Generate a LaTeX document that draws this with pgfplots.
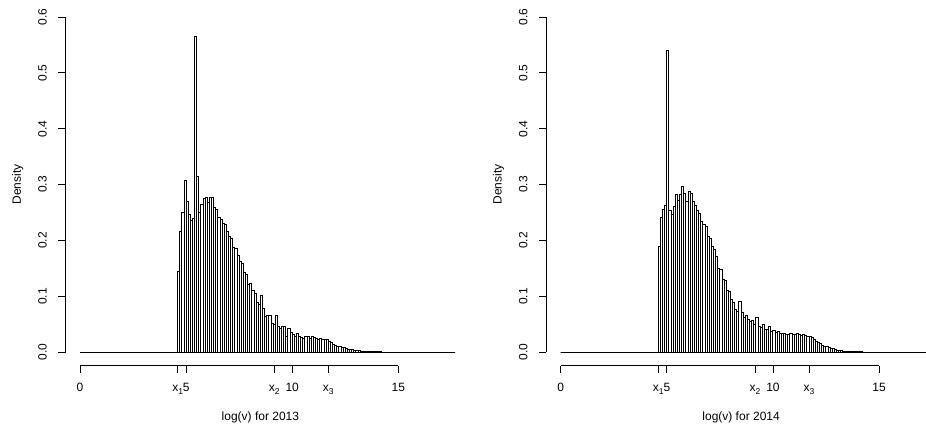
\documentclass[border=0pt]{standalone}
\usepackage{pgfplots}
\pgfplotsset{compat=1.18}
\usepackage{pgfplotstable}
\usepackage{fontspec}
\setmainfont{Liberation Sans}
\newcommand\sub[1]{\raisebox{-2.8pt}{\fontsize{8.5}{9}\selectfont #1}}

% 2013: left edges of bins (width 0.1) and densities; last row gives the right edge
\pgfplotstableread{
x y
0.0 0
4.6 0.144
4.7 0.216
4.8 0.250
4.9 0.307
5.0 0.270
5.1 0.246
5.2 0.235
5.3 0.240
5.4 0.565
5.5 0.314
5.6 0.250
5.7 0.265
5.8 0.275
5.9 0.277
6.0 0.268
6.1 0.277
6.2 0.277
6.3 0.259
6.4 0.256
6.5 0.242
6.6 0.238
6.7 0.231
6.8 0.229
6.9 0.217
7.0 0.208
7.1 0.204
7.2 0.188
7.3 0.186
7.4 0.174
7.5 0.163
7.6 0.159
7.7 0.142
7.8 0.140
7.9 0.122
8.0 0.123
8.1 0.110
8.2 0.106
8.3 0.089
8.4 0.086
8.5 0.101
8.6 0.079
8.7 0.064
8.8 0.065
8.9 0.065
9.0 0.052
9.1 0.049
9.2 0.065
9.3 0.047
9.4 0.043
9.5 0.046
9.6 0.046
9.7 0.028
9.8 0.043
9.9 0.035
10.0 0.032
10.1 0.028
10.2 0.033
10.3 0.028
10.4 0.027
10.5 0.025
10.6 0.028
10.7 0.028
10.8 0.025
10.9 0.028
11.0 0.027
11.1 0.025
11.2 0.023
11.3 0.024
11.4 0.022
11.5 0.022
11.6 0.022
11.7 0.019
11.8 0.017
11.9 0.014
12.0 0.013
12.1 0.011
12.2 0.010
12.3 0.009
12.4 0.0077
12.5 0.0065
12.6 0.0058
12.7 0.0050
12.8 0.0044
12.9 0.0038
13.0 0.0032
13.1 0.0027
13.2 0.0023
13.3 0.0020
13.4 0.0017
13.5 0.0014
13.6 0.0012
13.7 0.0010
13.8 0.0009
13.9 0.0008
14.0 0.0007
14.2 0.0005
14.4 0.0004
14.6 0.0003
14.8 0.0002
15.0 0
17.68 0
}\histA

% 2014
\pgfplotstableread{
x y
0.0 0
4.6 0.190
4.7 0.2415
4.8 0.256
4.9 0.2635
5.0 0.540
5.1 0.253
5.2 0.246
5.3 0.260
5.4 0.283
5.5 0.271
5.6 0.283
5.7 0.2975
5.8 0.2845
5.9 0.269
6.0 0.287
6.1 0.2845
6.2 0.269
6.3 0.2635
6.4 0.253
6.5 0.249
6.6 0.234
6.7 0.229
6.8 0.225
6.9 0.208
7.0 0.204
7.1 0.189
7.2 0.184
7.3 0.172
7.4 0.150
7.5 0.1485
7.6 0.131
7.7 0.129
7.8 0.111
7.9 0.108
8.0 0.094
8.1 0.089
8.2 0.076
8.3 0.073
8.4 0.091
8.5 0.071
8.6 0.063
8.7 0.066
8.8 0.058
8.9 0.055
9.0 0.057
9.1 0.050
9.2 0.063
9.3 0.046
9.4 0.044
9.5 0.050
9.6 0.041
9.7 0.040
9.8 0.046
9.9 0.038
10.0 0.039
10.1 0.035
10.2 0.037
10.3 0.034
10.4 0.033
10.5 0.034
10.6 0.032
10.7 0.031
10.8 0.033
10.9 0.031
11.0 0.032
11.1 0.033
11.2 0.032
11.3 0.030
11.4 0.031
11.5 0.030
11.6 0.029
11.7 0.029
11.8 0.026
11.9 0.023
12.0 0.020
12.1 0.018
12.2 0.015
12.3 0.013
12.4 0.011
12.5 0.0095
12.6 0.008
12.7 0.007
12.8 0.006
12.9 0.005
13.0 0.0040
13.1 0.0033
13.2 0.0027
13.3 0.0023
13.4 0.0019
13.5 0.0016
13.6 0.0013
13.7 0.0011
13.8 0.0009
13.9 0.0008
14.0 0.0007
14.2 0.0005
14.4 0.0004
14.6 0.0003
14.8 0.0002
15.0 0
17.68 0
}\histB

\pgfplotsset{
  rhist/.style={
    scale only axis, width=389.6pt, height=362.2pt,
    xmin=-0.68, xmax=17.68, ymin=-0.024, ymax=0.624,
    clip=false,
    axis x line=bottom, axis y line=left,
    axis line style={draw=none},
    tick align=outside, major tick length=7.2pt,
    tick style={black, line width=0.75pt},
    xtick={0,4.6,5,9.15,10,11.7,15},
    xticklabels={0,{x\sub{1}},5,{x\sub{2}},10,{x\sub{3}},15},
    ytick={0,0.1,0.2,0.3,0.4,0.5,0.6},
    yticklabels={0.0,0.1,0.2,0.3,0.4,0.5,0.6},
    xticklabel style={anchor=base, inner sep=0pt, yshift=-19pt},
    yticklabel style={rotate=90, anchor=base, inner sep=0pt, yshift=11.8pt},
    every axis x label/.style={at={(axis description cs:0.5,-0.1519)}, anchor=base},
    every axis y label/.style={at={(axis description cs:-0.1145,0.5)}, rotate=90, anchor=base},
    ylabel={Density},
  },
  barstyle/.style={ybar interval, fill=white, draw=black, line width=1pt},
}

\begin{document}
\fontsize{12}{14}\selectfont
\begin{tikzpicture}
\path[use as bounding box] (0pt,-426pt) rectangle (926pt,0pt);

\begin{axis}[rhist, at={(65.6pt,-365.7pt)}, anchor=south west,
  xlabel={log(v) for 2013}]
  \addplot[barstyle] table[x=x,y=y] {\histA};
  \draw[black, line width=0.75pt] (axis cs:0,-0.024) -- (axis cs:15,-0.024);
  \draw[black, line width=0.75pt] (axis cs:-0.68,0) -- (axis cs:-0.68,0.6);
\end{axis}

\begin{axis}[rhist, at={(546.3pt,-365.7pt)}, anchor=south west,
  xlabel={log(v) for 2014}]
  \addplot[barstyle] table[x=x,y=y] {\histB};
  \draw[black, line width=0.75pt] (axis cs:0,-0.024) -- (axis cs:15,-0.024);
  \draw[black, line width=0.75pt] (axis cs:-0.68,0) -- (axis cs:-0.68,0.6);
\end{axis}
\end{tikzpicture}
\end{document}
